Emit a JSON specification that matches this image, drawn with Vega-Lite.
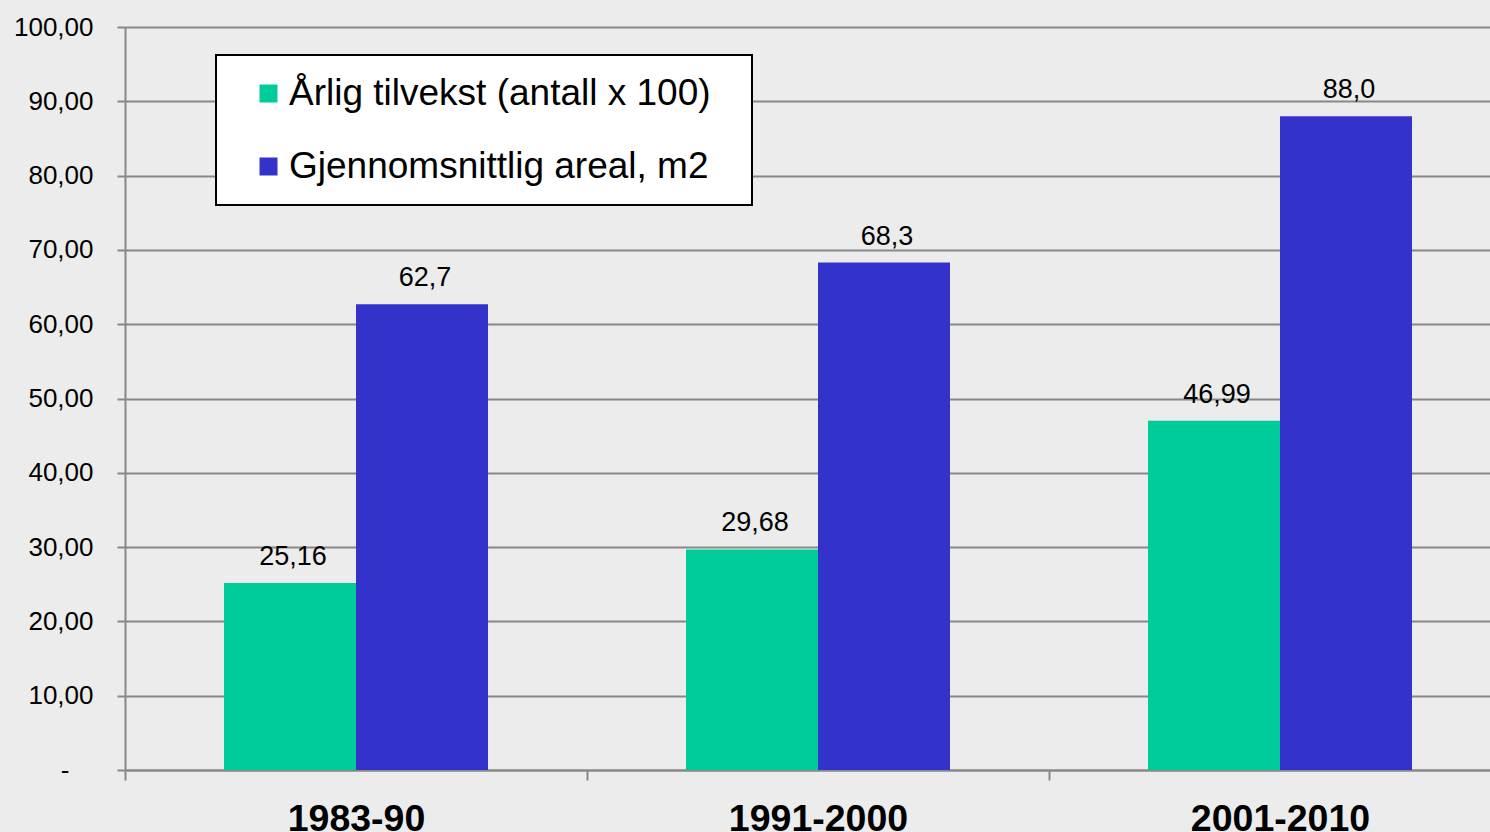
{
  "$schema": "https://vega.github.io/schema/vega-lite/v6.json",
  "width": 1365,
  "height": 743,
  "autosize": {"type": "none"},
  "padding": {"left": 125, "top": 27, "right": 0, "bottom": 62},
  "background": "#ececec",
  "config": {"view": {"stroke": null, "fill": "#ececec"}, "font": "Liberation Sans"},
  "data": {"values": [
    {"period": "1983-90", "series": "Årlig tilvekst (antall x 100)", "value": 25.16, "label": "25,16"},
    {"period": "1983-90", "series": "Gjennomsnittlig areal, m2", "value": 62.7, "label": "62,7"},
    {"period": "1991-2000", "series": "Årlig tilvekst (antall x 100)", "value": 29.68, "label": "29,68"},
    {"period": "1991-2000", "series": "Gjennomsnittlig areal, m2", "value": 68.3, "label": "68,3"},
    {"period": "2001-2010", "series": "Årlig tilvekst (antall x 100)", "value": 46.99, "label": "46,99"},
    {"period": "2001-2010", "series": "Gjennomsnittlig areal, m2", "value": 88.0, "label": "88,0"}
  ]},
  "encoding": {
    "x": {
      "field": "period", "type": "nominal",
      "sort": ["1983-90", "1991-2000", "2001-2010"],
      "scale": {"range": [0, 1386], "paddingInner": 0, "paddingOuter": 0},
      "axis": {
        "title": null, "labelAngle": 0, "labelFontSize": 37.5, "labelFontWeight": "bold",
        "labelColor": "black", "tickBand": "extent", "tickSize": 10, "tickColor": "#888888",
        "tickWidth": 2, "domainColor": "#888888", "domainWidth": 2, "labelPadding": 20, "grid": false
      }
    },
    "xOffset": {
      "field": "series", "type": "nominal",
      "sort": ["Årlig tilvekst (antall x 100)", "Gjennomsnittlig areal, m2"],
      "scale": {"paddingInner": 0, "paddingOuter": 0.75}
    },
    "y": {
      "field": "value", "type": "quantitative",
      "scale": {"domain": [0, 100], "nice": false},
      "axis": {
        "title": null, "values": [0, 10, 20, 30, 40, 50, 60, 70, 80, 90, 100],
        "labelExpr": "datum.value == 0 ? '-' : replace(format(datum.value, '.2f'), '.', ',')",
        "labelFontSize": 26, "labelColor": "black",
        "labelPadding": {"condition": {"test": "datum.value == 0", "value": 48}, "value": 24},
        "tickSize": 8, "tickColor": "#888888", "tickWidth": 2,
        "domainColor": "#888888", "domainWidth": 2,
        "grid": true, "gridColor": "#888888", "gridWidth": 2
      }
    }
  },
  "layer": [
    {
      "mark": {"type": "bar"},
      "encoding": {
        "color": {
          "field": "series", "type": "nominal",
          "scale": {"domain": ["Årlig tilvekst (antall x 100)", "Gjennomsnittlig areal, m2"], "range": ["#00CC99", "#3333CC"]},
          "legend": {
            "orient": "none", "legendX": 91, "legendY": 28, "title": null,
            "fillColor": "white", "strokeColor": "black", "padding": 20,
            "symbolOffset": 14, "symbolType": "square", "symbolSize": 324, "symbolStrokeWidth": 0,
            "labelFontSize": 37, "labelColor": "black", "labelLimit": 800, "labelOffset": 2,
            "rowPadding": 35,
            "labelExpr": "datum.label + '\u00a0\u00a0\u200b'",
            "encode": {
              "legend": {"update": {"strokeWidth": {"value": 2}}}
            }
          }
        }
      }
    },
    {
      "mark": {"type": "text", "baseline": "alphabetic", "dy": -18, "dx": 3, "fontSize": 27, "color": "black"},
      "encoding": {"text": {"field": "label"}}
    }
  ]
}
